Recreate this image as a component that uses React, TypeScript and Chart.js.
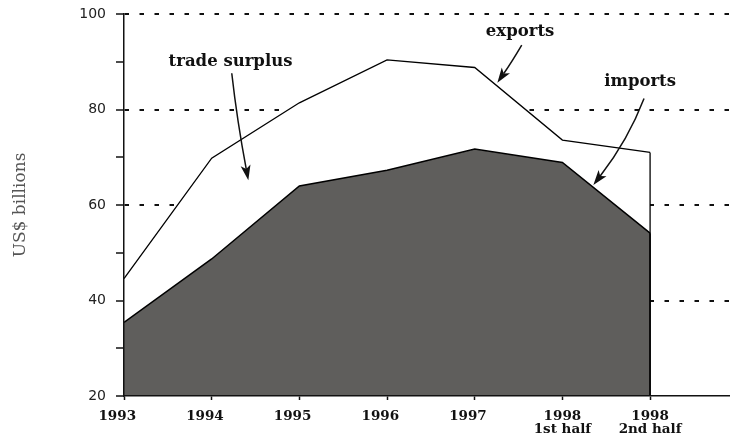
import React, { useEffect, useRef } from "react";
import { Chart, registerables } from "chart.js";

Chart.register(...registerables);

// ---- data ----
const categories: (string | string[])[] = ["1993", "1994", "1995", "1996", "1997", ["1998", "1st half"], ["1998", "2nd half"]];
const exportsValues = [44.6, 69.8, 81.4, 90.4, 88.8, 73.6, 71.0];
const importsValues = [35.4, 48.7, 64.0, 67.3, 71.7, 68.9, 54.1];
const yTickLabels = [20, 40, 60, 80, 100];
const yGridValues = [40, 60, 80, 100];
const yTitle = "US$ billions";
const annotationLabels = ["trade surplus", "exports", "imports"];

// annotation placement, in data units (x = category index, y = US$ billions)
const annotationText = [
  { x: 1.215, y: 89.1 },
  { x: 4.517, y: 95.4 },
  { x: 5.886, y: 84.9 },
];
const annotationArrows = [
  { sx: 1.229, sy: 87.6, cx: 1.289, cy: 77.8, ex: 1.418, ey: 65.2 },
  { sx: 4.536, sy: 93.5, cx: 4.42, cy: 89.9, ex: 4.258, ey: 85.6 },
  { sx: 5.931, sy: 82.3, cx: 5.749, cy: 73.6, ex: 5.353, ey: 64.2 },
];

const annotPlugin = {
  id: "annot",
  afterDatasetsDraw(chart: any) {
    const { ctx, chartArea } = chart;
    ctx.save();
    chart.data.datasets.forEach((ds: any, i: number) => {
      const meta = chart.getDatasetMeta(i);
      const last = meta.data[meta.data.length - 1];
      ctx.beginPath();
      ctx.moveTo(last.x, last.y);
      ctx.lineTo(last.x, chartArea.bottom);
      ctx.lineWidth = ds.borderWidth;
      ctx.strokeStyle = "#000";
      ctx.stroke();
    });
    ctx.restore();
  },
  afterDraw(chart: any) {
    const { ctx, scales } = chart;
    const xs = scales.x;
    const ys = scales.y;
    ctx.save();
    ctx.fillStyle = "#111";
    ctx.font = "bold 16.5px 'DejaVu Serif'";
    ctx.textAlign = "center";
    ctx.textBaseline = "alphabetic";
    annotationLabels.forEach((t, i) => {
      const p = annotationText[i];
      ctx.fillText(t, xs.getPixelForValue(p.x), ys.getPixelForValue(p.y));
    });
    annotationArrows.forEach((a) => {
      const sx = xs.getPixelForValue(a.sx), sy = ys.getPixelForValue(a.sy);
      const cx = xs.getPixelForValue(a.cx), cy = ys.getPixelForValue(a.cy);
      const ex = xs.getPixelForValue(a.ex), ey = ys.getPixelForValue(a.ey);
      const ang = Math.atan2(ey - cy, ex - cx);
      const len = 15, half = 5;
      const bx = ex - Math.cos(ang) * len * 0.75;
      const by = ey - Math.sin(ang) * len * 0.75;
      ctx.strokeStyle = "#111";
      ctx.lineWidth = 1.5;
      ctx.beginPath();
      ctx.moveTo(sx, sy);
      ctx.quadraticCurveTo(cx, cy, bx, by);
      ctx.stroke();
      // barbed arrowhead
      const px = -Math.sin(ang), py = Math.cos(ang);
      const baseX = ex - Math.cos(ang) * len, baseY = ey - Math.sin(ang) * len;
      ctx.beginPath();
      ctx.moveTo(ex, ey);
      ctx.lineTo(baseX + px * half, baseY + py * half);
      ctx.lineTo(bx, by);
      ctx.lineTo(baseX - px * half, baseY - py * half);
      ctx.closePath();
      ctx.fillStyle = "#111";
      ctx.fill();
    });
    ctx.restore();
  },
};

export default function App() {
  const ref = useRef<HTMLCanvasElement | null>(null);
  useEffect(() => {
    if (!ref.current) return;
    const chart = new Chart(ref.current, {
      type: "line",
      data: {
        datasets: [
          {
            label: "imports",
            data: importsValues.map((v, i) => ({ x: i, y: v })),
            borderColor: "#000",
            borderWidth: 1.5,
            backgroundColor: "#5f5e5c",
            fill: "start",
            pointRadius: 0,
            tension: 0,
          },
          {
            label: "exports",
            data: exportsValues.map((v, i) => ({ x: i, y: v })),
            borderColor: "#000",
            borderWidth: 1.3,
            backgroundColor: "#ffffff",
            fill: "start",
            pointRadius: 0,
            tension: 0,
          },
        ],
      },
      options: {
        animation: false,
        responsive: false,
        devicePixelRatio: 1,
        layout: { padding: { top: 14, right: 1, left: 0, bottom: 0 } },
        plugins: { legend: { display: false }, tooltip: { enabled: false } },
        scales: {
          x: {
            type: "linear",
            min: 0,
            max: 6.9,
            afterBuildTicks: (s: any) => {
              s.ticks = categories.map((_, i) => ({ value: i }));
            },
            afterFit: (s: any) => {
              s.height = 40;
            },
            grid: { drawOnChartArea: false, drawTicks: true, tickLength: 4, tickColor: "#111", tickWidth: 1.5 },
            border: { display: true, color: "#111", width: 1.5, z: 1 },
            ticks: {
              autoSkip: false,
              maxRotation: 0,
              padding: 10,
              color: "#111",
              font: { family: "'DejaVu Serif'", size: 13.5, weight: "bold", lineHeight: 0.95 },
              callback: (v: any) => {
                const l = categories[v as number];
                if (l === undefined) return "";
                return Array.isArray(l) ? l : l + "\u2003";
              },
            },
          },
          y: {
            min: 20,
            max: 100,
            afterFit: (s: any) => {
              s.width = 124;
              s.paddingTop = 0;
              s.paddingBottom = 0;
            },
            grid: {
              drawTicks: true,
              tickLength: 8,
              tickColor: "#111",
              tickWidth: 1.5,
              lineWidth: 2,
              color: (c: any) => (c.tick && yGridValues.includes(c.tick.value) ? "#111" : "rgba(0,0,0,0)"),
            },
            border: { display: true, color: "#111", width: 1.5, dash: [4.5, 10.5], dashOffset: 0, z: 1 },
            ticks: {
              stepSize: 10,
              padding: 10,
              color: "#222",
              font: { family: "'DejaVu Sans'", size: 14 },
              callback: (v: any) => (yTickLabels.includes(v as number) ? String(v) : ""),
            },
            title: {
              display: true,
              text: yTitle,
              color: "#555",
              font: { family: "'DejaVu Serif'", size: 17 },
              padding: { top: 10, bottom: 0 },
            },
          },
        },
      },
      plugins: [annotPlugin],
    } as any);
    return () => chart.destroy();
  }, []);
  return (
    <div style={{ position: "absolute", left: 0, top: 0, width: 730, height: 436, background: "#fff" }}>
      <canvas ref={ref} width={730} height={436} />
    </div>
  );
}
